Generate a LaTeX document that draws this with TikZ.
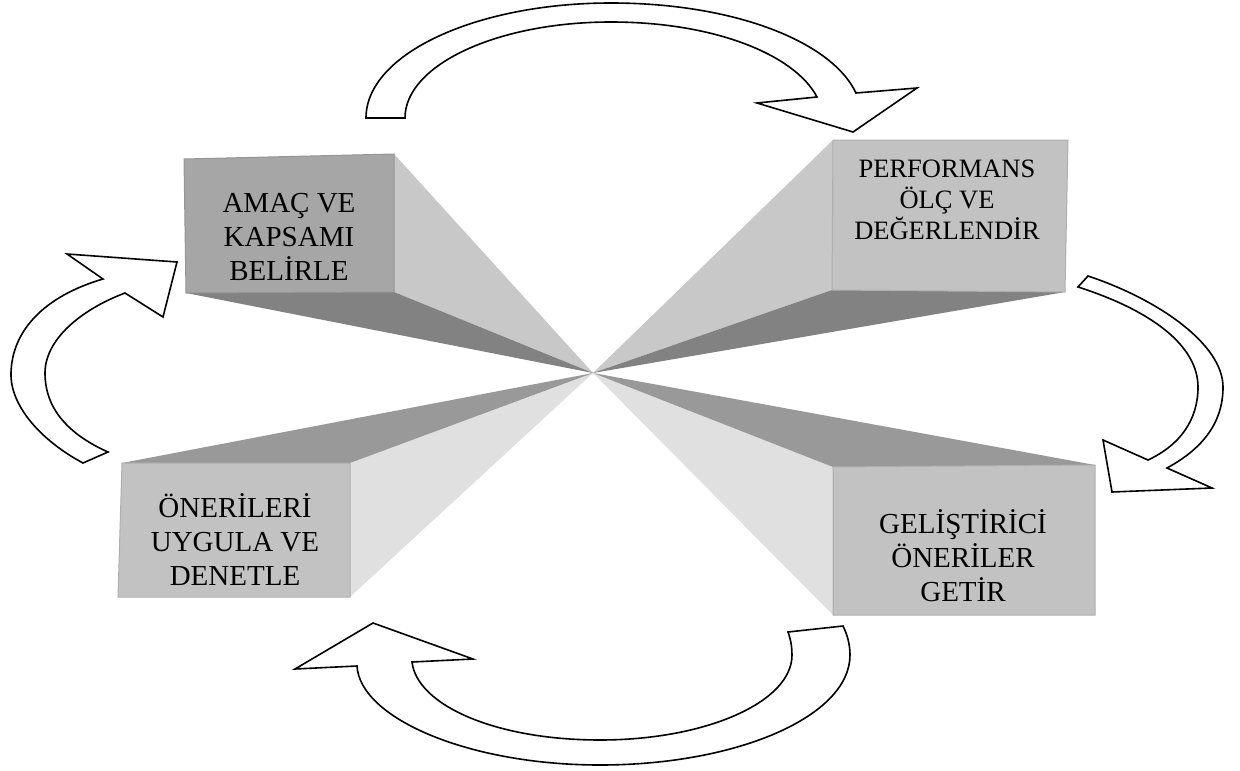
\documentclass[tikz,border=0pt]{standalone}
\usepackage{fontspec}
\setmainfont{Liberation Serif}

\definecolor{frontA}{HTML}{A6A6A6}
\definecolor{frontB}{HTML}{C2C2C2}
\definecolor{sideUp}{HTML}{C8C8C8}
\definecolor{sideLow}{HTML}{E0E0E0}
\definecolor{midFace}{HTML}{999999}
\definecolor{darkFace}{HTML}{828282}

\tikzset{
  cyclearrow/.style={draw=black, fill=white, line width=1.6pt, line join=miter},
  frontface/.style={fill=#1, draw=#1!90!black, line width=1pt},
  boxtext/.style={anchor=base, inner sep=0pt, font=\fontsize{29}{34}\selectfont},
  boxtextsmall/.style={anchor=base, inner sep=0pt, font=\fontsize{26.5}{31}\selectfont},
}

\begin{document}
\begin{tikzpicture}[x=1pt,y=-1pt]
\path[use as bounding box] (0,0) rectangle (1240,771);

% common vanishing point of the four blocks
\coordinate (vp) at (593,373);

% front faces: corners clockwise from top left
\coordinate (b1a) at (184,159); \coordinate (b1b) at (394,154);
\coordinate (b1c) at (394,292); \coordinate (b1d) at (186,293);
\coordinate (b2a) at (833,140); \coordinate (b2b) at (1068,140);
\coordinate (b2c) at (1065,292); \coordinate (b2d) at (832,290);
\coordinate (b3a) at (122,463); \coordinate (b3b) at (350,463);
\coordinate (b3c) at (350,597); \coordinate (b3d) at (118,597);
\coordinate (b4a) at (833,467); \coordinate (b4b) at (1095,465);
\coordinate (b4c) at (1095,615); \coordinate (b4d) at (833,615);

% receding faces, lightest first
\fill[sideLow] (b3b) -- (b3c) -- (vp) -- cycle;
\fill[sideLow] (b4a) -- (b4d) -- (vp) -- cycle;
\fill[sideUp] (b1b) -- (b1c) -- (vp) -- cycle;
\fill[sideUp] (b2a) -- (b2d) -- (vp) -- cycle;
\fill[midFace] (b3a) -- (b3b) -- (vp) -- cycle;
\fill[midFace] (b4a) -- (b4b) -- (vp) -- cycle;
\fill[darkFace] (b1d) -- (b1c) -- (vp) -- cycle;
\fill[darkFace] (b2d) -- (b2c) -- (vp) -- cycle;

% front faces
\filldraw[frontface=frontA] (b1a) -- (b1b) -- (b1c) -- (b1d) -- cycle;
\filldraw[frontface=frontB] (b2a) -- (b2b) -- (b2c) -- (b2d) -- cycle;
\filldraw[frontface=frontB] (b3a) -- (b3b) -- (b3c) -- (b3d) -- cycle;
\filldraw[frontface=frontB] (b4a) -- (b4b) -- (b4c) -- (b4d) -- cycle;

% labels
\node[boxtext] (t1) at (289,212) {\begin{tabular}[t]{@{}c@{}}AMAÇ VE\\KAPSAMI\\BELİRLE\end{tabular}};
\node[boxtextsmall] (t2) at (947,177) {\begin{tabular}[t]{@{}c@{}}PERFORMANS\\ÖLÇ VE\\DEĞERLENDİR\end{tabular}};
\node[boxtext] (t3) at (235,517) {\begin{tabular}[t]{@{}c@{}}ÖNERİLERİ\\UYGULA VE\\DENETLE\end{tabular}};
\node[boxtext] (t4) at (963,533) {\begin{tabular}[t]{@{}c@{}}GELİŞTİRİCİ\\ÖNERİLER\\GETİR\end{tabular}};

% curved block arrows of the cycle
% top: from the first block to the second
\draw[cyclearrow] (366,118) .. controls (366,54) and (476,3) .. (611,3)
  .. controls (735,3) and (832,42) .. (856,93)
  -- (917,88) -- (853,132) -- (757,103) -- (817,97)
  .. controls (795,55) and (715,22) .. (611,22)
  .. controls (497,22) and (405,65) .. (405,118) -- cycle;

% right: down to the fourth block
\draw[cyclearrow] (1088,276) .. controls (1160,300) and (1223,345) .. (1223,387)
  .. controls (1223,425) and (1200,450) .. (1167,468)
  -- (1212,488) -- (1112,492) -- (1103,440) -- (1148,460)
  .. controls (1180,445) and (1198,420) .. (1198,387)
  .. controls (1198,345) and (1150,310) .. (1078,287) -- cycle;

% bottom: across to the third block
\draw[cyclearrow] (843,626) .. controls (848,636) and (850,646) .. (850,655)
  .. controls (850,716) and (738,765) .. (600,765)
  .. controls (468,765) and (360,718) .. (357,666)
  -- (295,669) -- (373,623) -- (473,659) -- (412,662)
  .. controls (417,705) and (495,740) .. (600,740)
  .. controls (706,740) and (792,702) .. (792,655)
  .. controls (792,648) and (791,640) .. (788,632) -- cycle;

% left: back up to the first block
\draw[cyclearrow] (83,463) .. controls (40,440) and (10,405) .. (11,373)
  .. controls (12,330) and (45,296) .. (103,279)
  -- (67,254) -- (177,262) -- (163,317) -- (125,293)
  .. controls (80,310) and (45,340) .. (45,373)
  .. controls (45,410) and (70,435) .. (108,452) -- cycle;
\end{tikzpicture}
\end{document}
